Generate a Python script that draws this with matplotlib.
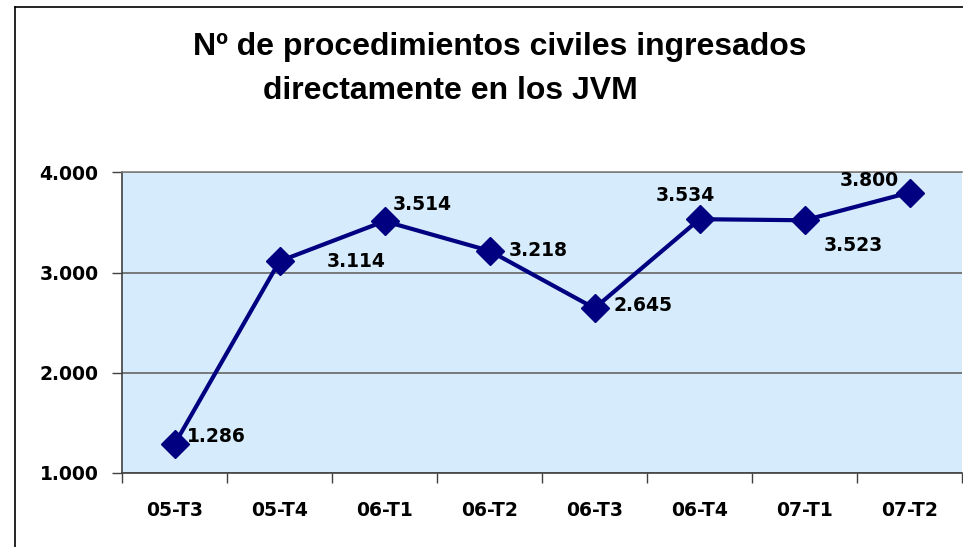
import matplotlib.pyplot as plt
import numpy as np
from matplotlib.lines import Line2D

# Data
periods = ['05-T3', '05-T4', '06-T1', '06-T2', '06-T3', '06-T4', '07-T1', '07-T2']
values = [1286, 3114, 3514, 3218, 2645, 3534, 3523, 3800]
# label offsets in points (dx, dy) relative to each marker
label_offsets = [(9, 6), (55, 0), (6, 12), (14, 0), (14, 2), (-10, 17), (14, -18), (-8, 9)]
label_ha = ['left', 'center', 'left', 'left', 'left', 'center', 'left', 'right']


def fmt(v):
    return f'{v:,}'.replace(',', '.')


def main():
    plt.rcParams['font.family'] = ['DejaVu Sans']
    plt.rcParams['font.weight'] = 'bold'
    small = 13.5

    fig = plt.figure(figsize=(9.63, 5.47), dpi=100)
    ax = fig.add_axes([122 / 963, 1 - 473 / 547, 840 / 963, 300.5 / 547])

    x = np.arange(len(periods))
    ax.set_facecolor('#d6ecfc')
    ax.plot(x, values, color='#000080', linewidth=3, marker='D', markersize=14,
            markerfacecolor='#000080', markeredgecolor='#000080', zorder=3)

    for xi, v, (dx, dy), ha in zip(x, values, label_offsets, label_ha):
        ax.annotate(fmt(v), xy=(xi, v), xytext=(dx, dy), textcoords='offset points',
                    ha=ha, va='center', fontsize=small, fontweight='bold', color='black')

    ax.set_xlim(-0.5, 7.5)
    ax.set_ylim(1000, 4000)
    ax.set_yticks([1000, 2000, 3000, 4000])
    ax.set_yticklabels([fmt(v) for v in [1000, 2000, 3000, 4000]], fontsize=small, fontweight='bold')
    ax.yaxis.grid(True, color='#707070', linewidth=1.3)
    ax.set_axisbelow(True)

    ax.set_xticks(x)
    ax.set_xticklabels(periods, fontsize=small, fontweight='bold')
    ax.set_xticks(np.arange(-0.5, 8, 1), minor=True)
    ax.tick_params(axis='x', which='major', length=0, pad=20)
    ax.tick_params(axis='x', which='minor', length=7, width=1, color='#404040')
    ax.tick_params(axis='y', length=7, width=1, color='#404040', pad=10)

    ax.spines['top'].set_color('#808080')
    ax.spines['right'].set_visible(False)
    ax.spines['left'].set_color('#404040')
    ax.spines['bottom'].set_color('#404040')
    for s in ax.spines.values():
        s.set_linewidth(1.2)

    # Title (two lines, as in the original)
    fig.text(500 / 963, 1 - 47 / 547, 'Nº de procedimientos civiles ingresados',
             ha='center', va='center', fontsize=23, fontweight='bold',
             family='Liberation Sans')
    fig.text(450 / 963, 1 - 91 / 547, 'directamente en los JVM',
             ha='center', va='center', fontsize=23, fontweight='bold',
             family='Liberation Sans')

    # outer chart frame (cropped on right and bottom)
    fig.add_artist(Line2D([15 / 963, 15 / 963], [0, 1 - 7 / 547], color='black', linewidth=1.2))
    fig.add_artist(Line2D([15 / 963, 1], [1 - 7 / 547, 1 - 7 / 547], color='black', linewidth=1.2))

    fig.savefig('out.png', dpi=100)


if __name__ == '__main__':
    main()
